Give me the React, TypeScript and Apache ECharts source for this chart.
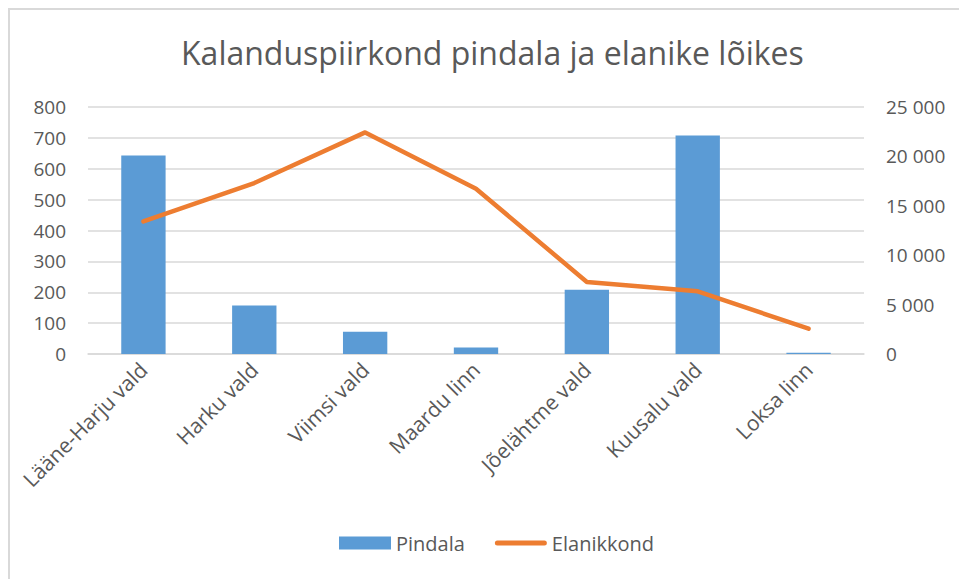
import React, { useEffect, useRef } from "react";
import * as echarts from "echarts";

const categories = [
  "Lääne-Harju vald",
  "Harku vald",
  "Viimsi vald",
  "Maardu linn",
  "Jõelähtme vald",
  "Kuusalu vald",
  "Loksa linn",
];
const pindala = [643, 157, 72, 21, 208, 708, 4];
const elanikkond = [13420, 17300, 22430, 16730, 7290, 6340, 2560];
const leftTicks = { min: 0, max: 800, interval: 100 };
const rightTicks = { min: 0, max: 25000, interval: 5000 };

const FONT = "'Open Sans', sans-serif";
const GRAY = "#595959";
const LINE_ICON = "path://M2.5,0 H49.5 A2.5,2.5 0 0 1 49.5,5 H2.5 A2.5,2.5 0 0 1 2.5,0 Z";

export default function App() {
  const ref = useRef<HTMLDivElement>(null);
  useEffect(() => {
    if (!ref.current) return;
    const chart = echarts.init(ref.current, null, { renderer: "svg" });
    chart.setOption({
      animation: false,
      textStyle: { fontFamily: FONT },
      title: {
        text: "Kalanduspiirkond pindala ja elanike lõikes",
        left: 176,
        top: 31,
        textStyle: { fontFamily: FONT, fontSize: 32, fontWeight: "normal", color: GRAY },
      },
      legend: {
        bottom: 21,
        left: 334,
        itemGap: 30,
        symbolKeepAspect: true,
        textStyle: { fontFamily: FONT, fontSize: 20, color: GRAY },
        data: [
          { name: "Pindala", icon: "rect", itemStyle: { color: "#5B9BD5" } },
          { name: "Elanikkond", icon: LINE_ICON, itemStyle: { color: "#ED7D31" } },
        ],
        itemWidth: 52,
        itemHeight: 13,
      },
      grid: { left: 88, right: 95, top: 107, bottom: 225 },
      xAxis: {
        type: "category",
        data: categories,
        axisLine: { show: true, lineStyle: { color: "#d9d9d9", width: 1.5 } },
        axisTick: { show: false },
        axisLabel: {
          rotate: 45,
          margin: 12,
          interval: 0,
          fontFamily: FONT,
          fontSize: 21,
          color: GRAY,
        },
      },
      yAxis: [
        {
          type: "value",
          ...leftTicks,
          axisLine: { show: false },
          axisTick: { show: false },
          splitLine: { lineStyle: { color: "#d9d9d9", width: 1.5 } },
          axisLabel: { fontFamily: FONT, fontSize: 19, color: GRAY, margin: 22 },
        },
        {
          type: "value",
          ...rightTicks,
          axisLine: { show: false },
          axisTick: { show: false },
          splitLine: { show: false },
          axisLabel: {
            fontFamily: FONT,
            fontSize: 19,
            color: GRAY,
            margin: 22,
            formatter: (v: number) => String(v).replace(/\B(?=(\d{3})+(?!\d))/g, " "),
          },
        },
      ],
      series: [
        {
          name: "Pindala",
          type: "bar",
          data: pindala,
          yAxisIndex: 0,
          barCategoryGap: "60%",
          itemStyle: { color: "#5B9BD5" },
        },
        {
          name: "Elanikkond",
          type: "line",
          data: elanikkond,
          yAxisIndex: 1,
          symbol: "none",
          lineStyle: { color: "#ED7D31", width: 4.5, cap: "round", join: "round" },
          itemStyle: { color: "#ED7D31" },
        },
      ],
    });
    return () => chart.dispose();
  }, []);
  return (
    <div style={{ position: "fixed", left: 0, top: 0, width: 959, height: 579, background: "#fff" }}>
      <div
        style={{
          position: "absolute",
          left: 8,
          top: 8,
          width: 980,
          height: 600,
          borderTop: "2px solid #d9d9d9",
          borderLeft: "2px solid #d9d9d9",
        }}
      />
      <div ref={ref} style={{ position: "absolute", left: 0, top: 0, width: 959, height: 579 }} />
    </div>
  );
}
